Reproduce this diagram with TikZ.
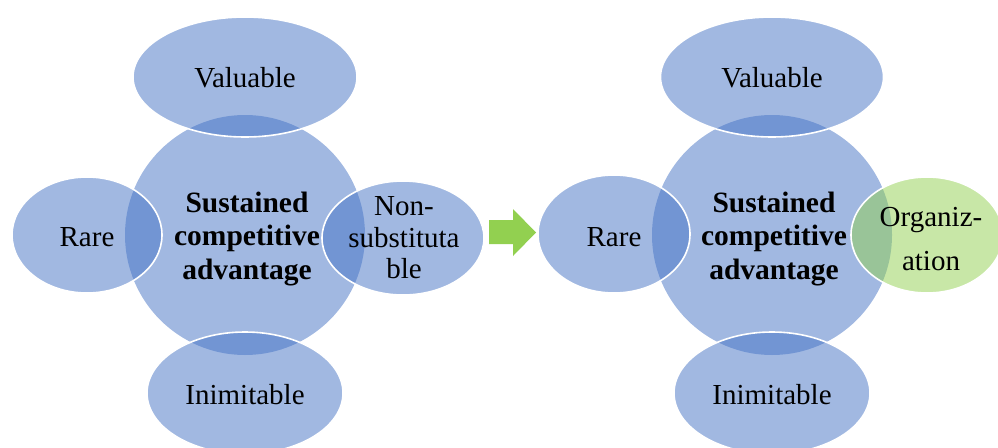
\documentclass[tikz,border=0pt]{standalone}
\usepackage{fontspec}
\setmainfont{Liberation Serif}
\usetikzlibrary{shapes.geometric}
\definecolor{accblue}{HTML}{4472C4}
\definecolor{accgreen}{HTML}{92D050}
\begin{document}
\begin{tikzpicture}[x=1pt,y=-1pt,
  hub/.style={circle, fill=accblue, fill opacity=0.5, minimum size=240pt, inner sep=0pt},
  petal/.style={ellipse, fill=#1, fill opacity=0.5, draw=white, draw opacity=1,
                line width=1.6pt, inner sep=0pt},
  petal/.default=accblue,
  lbl/.style={text=black, align=center, inner sep=0pt,
              font=\fontsize{29}{33.5}\selectfont},
  hublbl/.style={lbl, font=\fontsize{29.5}{33.5}\selectfont\bfseries}]
\useasboundingbox (0,0) rectangle (998,447);

% ---- VRIN framework ----
\node[hub] (hubA) at (245,235) {};
\node[petal, minimum width=224pt, minimum height=120pt] (valA) at (245,77) {};
\node[petal, minimum width=196pt, minimum height=122pt] (inimA) at (245,393) {};
\node[petal, minimum width=150pt, minimum height=116pt] (rareA) at (87,235) {};
\node[petal, minimum width=162pt, minimum height=114pt] (subA) at (403,238) {};

\node[hublbl] (hubAt) at (247,239) {Sustained\\competitive\\advantage};
\node[lbl] (valAt) at (245,78) {Valuable};
\node[lbl] (inimAt) at (245,395) {Inimitable};
\node[lbl] (rareAt) at (87,237) {Rare};
\node[lbl, font=\fontsize{29}{31.5}\selectfont] (subAt) at (404,238) {Non-\\substituta\\ble};

% ---- transition arrow ----
\fill[accgreen] (489,220) -- (513,220) -- (513,209) -- (536,232.5)
  -- (513,256) -- (513,244) -- (489,244) -- cycle;

% ---- VRIO framework ----
\node[hub] (hubB) at (772,235) {};
\node[petal, minimum width=223pt, minimum height=120pt] (valB) at (772,77) {};
\node[petal, minimum width=196pt, minimum height=122pt] (inimB) at (772,393) {};
\node[petal, minimum width=152pt, minimum height=118pt] (rareB) at (614,234) {};
\node[petal=accgreen, minimum width=152pt, minimum height=116pt] (orgB) at (927,235) {};

\node[hublbl] (hubBt) at (774,239) {Sustained\\competitive\\advantage};
\node[lbl] (valBt) at (772,78) {Valuable};
\node[lbl] (inimBt) at (772,395) {Inimitable};
\node[lbl] (rareBt) at (614,237) {Rare};
\node[lbl, font=\fontsize{29}{44}\selectfont] (orgBt) at (931,239) {Organiz-\\ation};
\end{tikzpicture}
\end{document}
